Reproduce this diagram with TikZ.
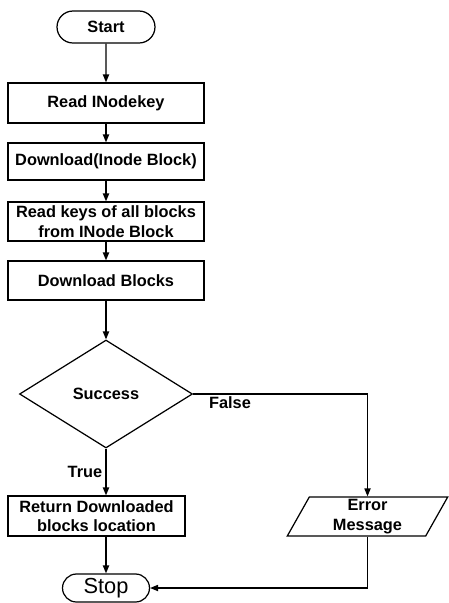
\documentclass[tikz,border=0pt]{standalone}
\usepackage{fontspec}
\setmainfont{Liberation Sans}
\usetikzlibrary{arrows.meta,shapes.geometric,shapes.misc}

\begin{document}
\begin{tikzpicture}[x=0.02cm,y=-0.02cm,line width=0.7pt,
		>={Triangle[length=4.5pt,width=3.5pt]},
		every node/.style={font=\fontsize{9.3}{11}\selectfont\bfseries, align=center, inner sep=0pt},
		term/.style={draw, rounded rectangle},
		stepbox/.style={draw, minimum width=3.92cm, minimum height=0.78cm},
		decision/.style={draw, diamond, minimum width=3.46cm, minimum height=2.16cm},
		io/.style={draw, trapezium, trapezium stretches=true, trapezium left angle=69, trapezium right angle=111, minimum width=3.22cm, minimum height=0.78cm}]
				\useasboundingbox (0,0) rectangle (449,603);
				
				\node[term, minimum width=1.96cm, minimum height=0.64cm] (start) at (106,27) {Start};
				\node[stepbox, minimum height=0.8cm] (key) at (106,103) {Read INodekey};
				\node[stepbox, minimum height=0.74cm] (dl) at (106,161.5) {Download(Inode Block)};
				\node[stepbox] (keys) at (106,221.5) {Read keys of all blocks\\from INode Block};
				\node[stepbox] (blk) at (106,280.5) {Download Blocks};
				\node[decision] (dia) at (106,394) {Success};
				\node[stepbox, minimum width=3.54cm, minimum height=0.8cm] (ret) at (96.5,516) {Return Downloaded\\blocks location};
				\node[io] (err) at (367.5,516.5) {Error\\Message};
				\node[term, minimum width=1.74cm, minimum height=0.56cm, font=\fontsize{12.4}{14}\selectfont] (stop) at (106,588) {Stop};
				
				\node (t) at (85,472) {True};
				\node (f) at (230,403) {False};
				
				\draw[->] (start) -- (key);
				\draw[->] (key) -- (dl);
				\draw[->] (dl) -- (keys);
				\draw[->] (keys) -- (blk);
				\draw[->] (blk) -- (dia);
				\draw[->] (dia.south) -- (dia.south |- ret.north);
				\draw[->] (dia.east) -| (err.north);
				\draw[->] (stop.north |- ret.south) -- (stop.north);
				\draw[->] (err.south) |- (stop.east);
			\end{tikzpicture}
\end{document}
